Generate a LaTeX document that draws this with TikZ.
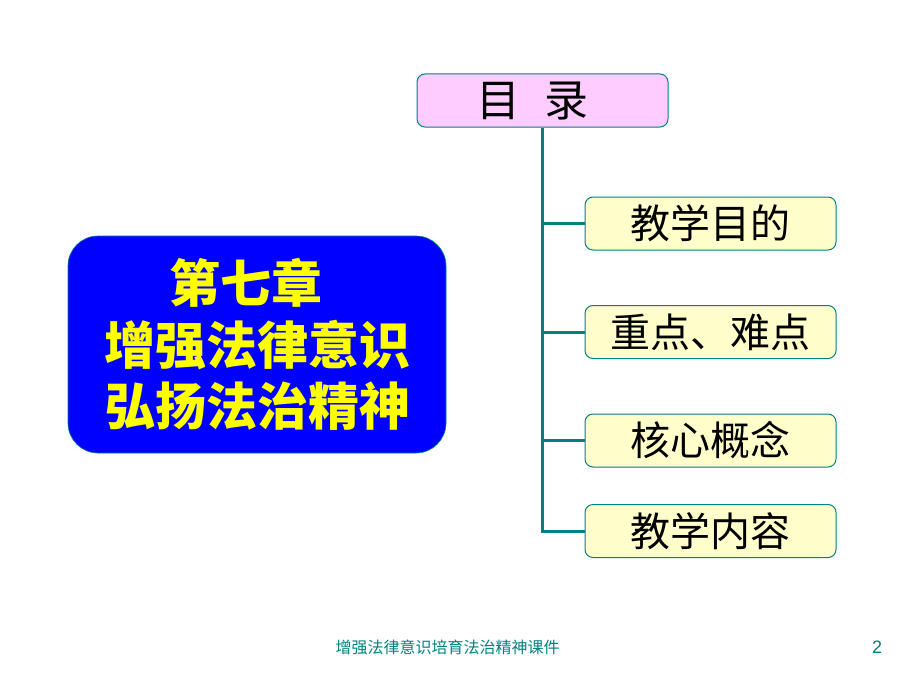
\documentclass[tikz,border=0pt]{standalone}
\usepackage{fontspec}
\setmainfont{Liberation Sans}
\newfontfamily\cjk{Noto Sans CJK SC}
\usetikzlibrary{positioning}

\definecolor{lineteal}{RGB}{0,128,128}
\definecolor{mulupink}{RGB}{255,204,255}
\definecolor{itemyellow}{RGB}{255,255,204}
\definecolor{titleblue}{RGB}{0,0,255}
\definecolor{titleyellow}{RGB}{255,255,0}

\tikzset{
  itembox/.style={draw=lineteal, line width=1pt, fill=itemyellow, rounded corners=8pt,
    minimum width=251pt, minimum height=53pt, inner sep=0pt,
    font=\cjk\fontsize{40}{40}\selectfont},
  branch/.style={draw=lineteal, line width=3pt}
}

\begin{document}
\begin{tikzpicture}[x=1pt, y=-1pt]
    \useasboundingbox (0, 0) rectangle (920, 690);

    \node [itembox, fill=mulupink, font=\cjk\fontsize{44}{44}\selectfont] (mulu) at (542.5, 100.5) {目\hspace{0.55em}录\hspace*{20pt}};

    \node [itembox] (mudi) at (710.5, 223.5) {教学目的};
    \node [itembox] (zhongdian) at (710.5, 332) {重点、难点};
    \node [itembox] (gainian) at (710.5, 440.5) {核心概念};
    \node [itembox] (neirong) at (710.5, 531) {教学内容};

    \node [fill=titleblue, draw=lineteal, line width=0.6pt, rounded corners=30pt,
           minimum width=378pt, minimum height=217pt, align=center, text=titleyellow,
           font=\cjk\bfseries\fontsize{51}{61.5}\selectfont] (title) at (257, 344.5)
        {第七章\hspace*{22pt}\\增强法律意识\\弘扬法治精神};

    \coordinate (corner) at (mulu.south |- neirong.west);
    \draw [branch] (mulu.south) -- (corner) -- (neirong.west);
    \foreach \item in {mudi, zhongdian, gainian}
        \draw [branch] (mulu.south |- \item.west) -- (\item.west);

    \node [text=lineteal, font=\cjk\fontsize{16}{16}\selectfont] (footer) at (447.5, 647) {增强法律意识培育法治精神课件};
    \node [text=lineteal, font=\fontsize{18}{18}\selectfont] (page) at (877, 647) {2};
\end{tikzpicture}
\end{document}
